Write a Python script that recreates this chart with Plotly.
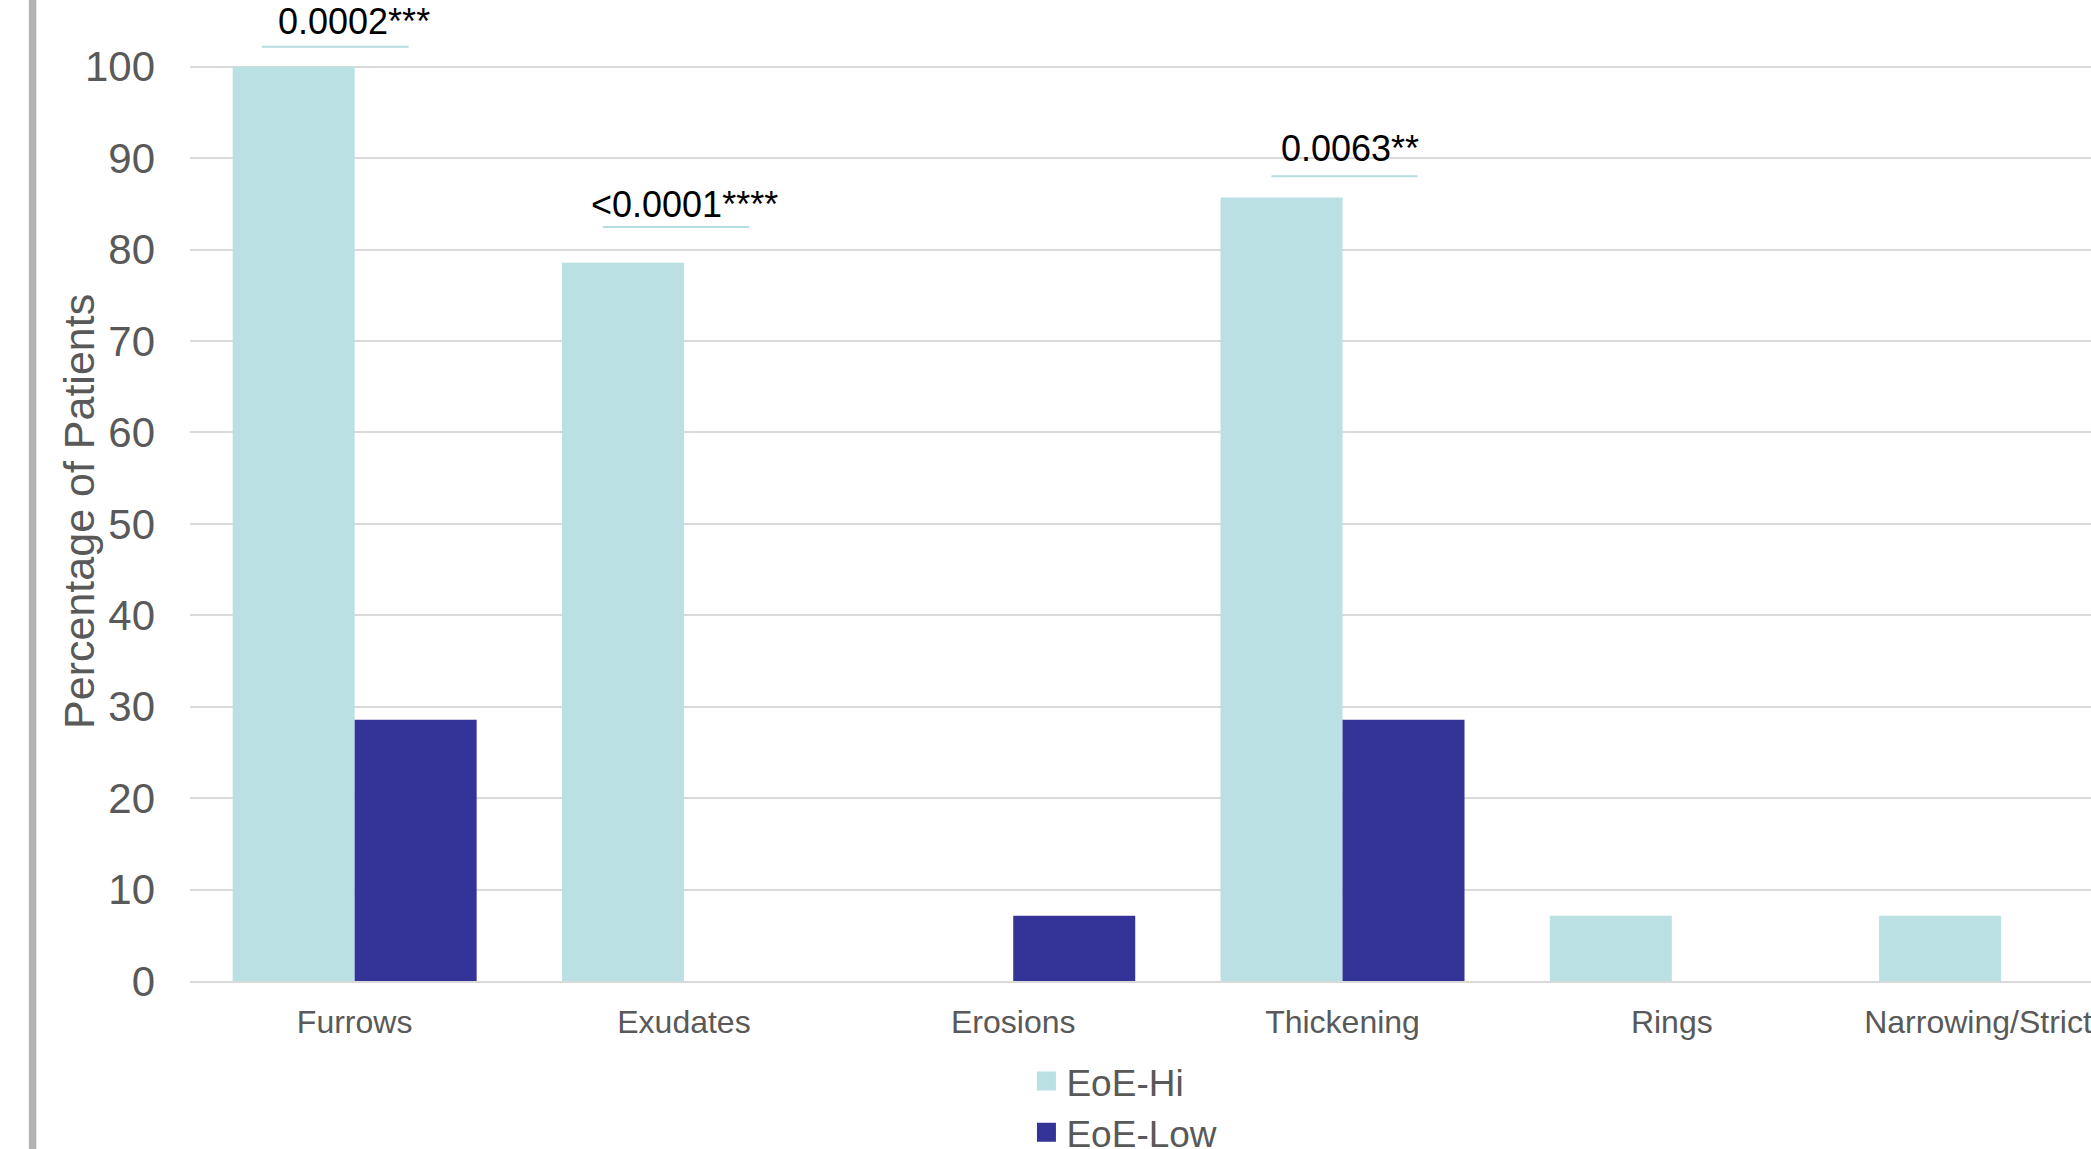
import plotly.graph_objects as go

# Endoscopic findings by EoE group
categories = ["Furrows", "Exudates", "Erosions", "Thickening", "Rings", "Narrowing/Stricture"]
eoe_hi = [100, 78.57, 0, 85.71, 7.14, 7.14]
eoe_low = [28.57, 0, 7.14, 28.57, 0, 0]
series_names = ["EoE-Hi", "EoE-Low"]

# p-value labels shown above selected categories
pvalue_labels = ["0.0002***", "<0.0001****", "", "0.0063**", "", ""]

HI_COLOR = "#BAE0E3"
LOW_COLOR = "#343397"
GRID = "#D9D9D9"
TEXT_GRAY = "#595959"
FONT = "Arial, Liberation Sans, sans-serif"

fig = go.Figure()
for name, vals, col in [(series_names[0], eoe_hi, HI_COLOR), (series_names[1], eoe_low, LOW_COLOR)]:
    fig.add_trace(go.Bar(x=categories, y=vals, name=name, marker=dict(color=col, line=dict(width=0)),
                         showlegend=False))
    # legend swatch with a larger square than the default bar icon
    fig.add_trace(go.Scatter(x=[None], y=[None], mode="markers", name=name,
                             marker=dict(symbol="square", size=16, color=col, line=dict(color=col, width=3))))

# bracket line / label placement (offsets above the taller bar, in axis units)
label_style = {
    0: dict(dx0=-0.282, dx1=0.164, line_dy=2.2, text_dx=-0.003, text_dy=5.0),
    1: dict(dx0=-0.246, dx1=0.198, line_dy=3.9, text_dx=0.003, text_dy=6.4),
    3: dict(dx0=-0.216, dx1=0.228, line_dy=2.3, text_dx=0.024, text_dy=5.4),
}
for i, lab in enumerate(pvalue_labels):
    if not lab:
        continue
    st = label_style[i]
    top = max(eoe_hi[i], eoe_low[i])
    fig.add_shape(type="line", xref="x", yref="y", x0=i + st["dx0"], x1=i + st["dx1"],
                  y0=top + st["line_dy"], y1=top + st["line_dy"],
                  line=dict(color="#B5DDE0", width=2))
    fig.add_annotation(x=i + st["text_dx"], y=top + st["text_dy"], xref="x", yref="y", text=lab,
                       showarrow=False, font=dict(size=36, color="#000000", family=FONT),
                       xanchor="center", yanchor="middle")

# y-axis title
fig.add_annotation(x=-0.0585, y=0.479, xref="paper", yref="paper", text="Percentage of Patients",
                   showarrow=False, textangle=-90, font=dict(size=43, color=TEXT_GRAY, family=FONT),
                   xanchor="center", yanchor="middle")

# left frame strip
fig.add_shape(type="line", xref="paper", yref="paper", x0=-0.0828, x1=-0.0828, y0=-0.25, y1=1.1,
              line=dict(color="#B3B3B3", width=7.5))

fig.update_layout(
    width=2091, height=1149,
    margin=dict(l=190, r=0, t=0, b=167.5, autoexpand=False),
    paper_bgcolor="white", plot_bgcolor="white",
    barmode="group", bargap=0.259, bargroupgap=0,
    font=dict(family=FONT, color=TEXT_GRAY),
    legend=dict(x=0.44, y=-0.0709, xanchor="left", yanchor="top", orientation="v",
                font=dict(size=37, color=TEXT_GRAY, family=FONT), bgcolor="rgba(0,0,0,0)",
                itemsizing="trace"),
    xaxis=dict(type="category", range=[-0.5, 5.273], showgrid=False, ticks="",
               tickfont=dict(size=32, color=TEXT_GRAY), ticklabelstandoff=12,
               showline=True, linecolor=GRID, linewidth=2, fixedrange=True, automargin=False),
    yaxis=dict(range=[0, 107.3], dtick=10, tick0=0, showgrid=True, gridcolor=GRID, gridwidth=2,
               zeroline=False, ticks="", tickfont=dict(size=42, color=TEXT_GRAY),
               ticklabelstandoff=34, showline=False, automargin=False),
)

fig.write_html("out.html")
